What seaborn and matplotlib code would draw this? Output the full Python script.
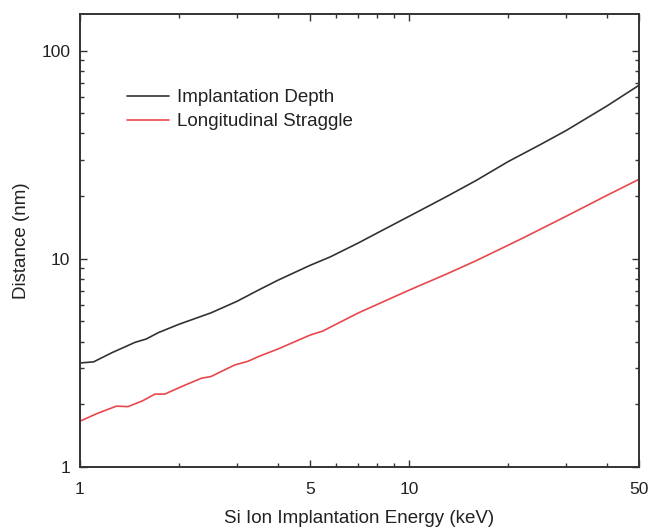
import numpy as np
import pandas as pd
import matplotlib
matplotlib.use("Agg")
import matplotlib.pyplot as plt
import matplotlib.ticker as mticker
import seaborn as sns

# Data
energy_depth = [1, 1.1, 1.25, 1.47, 1.59, 1.73, 2, 2.5, 3, 3.5, 4, 5, 5.75, 7, 8, 10,
                13, 16, 20, 25, 30, 40, 50]
depth = [3.16, 3.2, 3.54, 3.97, 4.12, 4.42, 4.85, 5.5, 6.25, 7.1, 7.9, 9.3, 10.2, 11.9, 13.3, 16.0,
         19.9, 23.8, 29.3, 35.3, 41.3, 54.3, 68.2]

energy_straggle = [1, 1.13, 1.29, 1.4, 1.55, 1.69, 1.81, 2.08, 2.34, 2.5, 2.95, 3.24, 3.5, 4, 5,
                   5.47, 7, 10, 13, 16, 22, 30, 40, 50]
straggle = [1.66, 1.81, 1.96, 1.95, 2.08, 2.24, 2.24, 2.47, 2.67, 2.72, 3.09, 3.22, 3.4, 3.69, 4.3,
            4.5, 5.49, 7.07, 8.45, 9.8, 12.5, 16.0, 20.2, 24.1]

series_names = ["Implantation Depth", "Longitudinal Straggle"]
series_colors = ["#333333", "#e8474c"]
x_ticks = [1, 5, 10, 50]
y_ticks = [1, 10, 100]

df = pd.concat([
    pd.DataFrame({"Energy": energy_depth, "Distance": depth, "Series": series_names[0]}),
    pd.DataFrame({"Energy": energy_straggle, "Distance": straggle, "Series": series_names[1]}),
], ignore_index=True)

sns.set_style("ticks")
plt.rcParams["font.family"] = ["Liberation Sans", "DejaVu Sans"]

fig = plt.figure(figsize=(6.51, 5.28), dpi=100)
ax = fig.add_axes([80 / 651, 1 - 467 / 528, (639 - 80) / 651, (467 - 14) / 528])

sns.lineplot(data=df, x="Energy", y="Distance", hue="Series",
             palette=dict(zip(series_names, series_colors)), linewidth=1.2,
             ax=ax, legend=True, sort=True)

ax.set_xscale("log")
ax.set_yscale("log")
ax.set_xlim(1, 50)
ax.set_ylim(1, 150)

ax.xaxis.set_major_locator(mticker.FixedLocator(x_ticks))
ax.xaxis.set_major_formatter(mticker.FixedFormatter([str(t) for t in x_ticks]))
ax.xaxis.set_minor_locator(mticker.LogLocator(base=10, subs=np.arange(2, 10)))
ax.xaxis.set_minor_formatter(mticker.NullFormatter())
ax.yaxis.set_major_locator(mticker.FixedLocator(y_ticks))
ax.yaxis.set_major_formatter(mticker.FixedFormatter([str(t) for t in y_ticks]))
ax.yaxis.set_minor_locator(mticker.LogLocator(base=10, subs=np.arange(2, 10)))
ax.yaxis.set_minor_formatter(mticker.NullFormatter())

ax.tick_params(which="both", direction="in", top=True, right=True, color="#333333", width=1.0)
ax.tick_params(which="major", length=5, labelsize=12.5, labelcolor="#222222")
ax.tick_params(which="minor", length=3)
ax.tick_params(axis="x", which="major", pad=11)
ax.tick_params(axis="y", which="major", pad=7)

for sp in ax.spines.values():
    sp.set_color("#333333")
    sp.set_linewidth(1.4)
    sp.set_visible(True)

ax.set_xlabel("Si Ion Implantation Energy (keV)", fontsize=13.5, color="#222222", labelpad=9)
ax.set_ylabel("Distance (nm)", fontsize=13.5, color="#222222", labelpad=8)

leg = ax.legend(loc="upper left", bbox_to_anchor=(0.054, 0.871), frameon=False,
                fontsize=13.5, handlelength=2.24, handletextpad=0.4, labelspacing=0.35,
                title=None)
for t in leg.get_texts():
    t.set_color("#222222")

fig.savefig("out.png", dpi=100)
